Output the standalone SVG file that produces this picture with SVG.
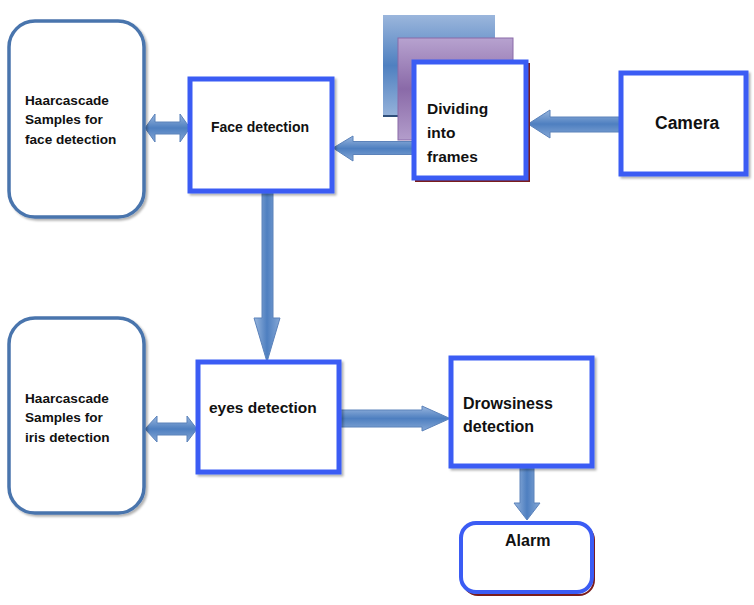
<svg xmlns="http://www.w3.org/2000/svg" width="754" height="605" viewBox="0 0 754 605">
<defs>
<linearGradient id="gv" x1="0" y1="0" x2="0" y2="1">
<stop offset="0" stop-color="#9ab7de"/><stop offset="0.5" stop-color="#4e7fc0"/><stop offset="1" stop-color="#86a8d6"/>
</linearGradient>
<linearGradient id="gh" x1="0" y1="0" x2="1" y2="0">
<stop offset="0" stop-color="#9ab7de"/><stop offset="0.5" stop-color="#4e7fc0"/><stop offset="1" stop-color="#86a8d6"/>
</linearGradient>
<linearGradient id="gblue" x1="0" y1="0" x2="0" y2="1">
<stop offset="0" stop-color="#9bb6dc"/><stop offset="0.5" stop-color="#4f80c0"/><stop offset="1" stop-color="#95b2da"/>
</linearGradient>
<linearGradient id="gpurple" x1="0" y1="0" x2="0" y2="1">
<stop offset="0" stop-color="#b7a2cf"/><stop offset="0.5" stop-color="#8a6aa8"/><stop offset="1" stop-color="#b39dcb"/>
</linearGradient>
<filter id="sh" x="-10%" y="-10%" width="130%" height="130%">
<feDropShadow dx="2" dy="2" stdDeviation="1.2" flood-color="#000" flood-opacity="0.3"/>
</filter>
</defs>
<style>
.box{fill:#fff;stroke:#3b5cf4;stroke-width:5}
.haar{fill:#fff;stroke:#4a74ad;stroke-width:3.5}
.ah{stroke:#5b82ba;stroke-width:1}
.ahv{fill:url(#gv)}
.ahh{fill:url(#gh)}
text{font-family:"Liberation Sans",Arial,sans-serif;font-weight:bold;fill:#111}
</style>

<g id="connectors">
<polygon class="ah ahv" points="145,128 155,114 155,122 180,122 180,114 190,128 180,142 180,134 155,134 155,142"/>
<polygon class="ah ahv" points="145,429 157,416 157,423 187,423 187,416 197,429 187,442 187,435 157,435 157,442"/>
<polygon class="ah ahv" points="333,148 353,136 353,141.5 413,141.5 413,154.5 353,154.5 353,161"/>
<polygon class="ah ahv" points="528,124 550,110 550,117 622,117 622,132 550,132 550,138"/>
<polygon class="ah ahh" points="262,192 273,192 273,318 280,318 267,362 254,318 262,318"/>
<polygon class="ah ahv" points="340,410 422,410 422,406 450,418.5 422,431 422,427 340,427"/>
<polygon class="ah ahh" points="520,467 534,467 534,503 540,503 527,520 514,503 520,503"/>
</g>

<g id="haar-face">
<rect class="haar" x="9" y="21" width="135" height="196" rx="26" filter="url(#sh)"/>
<text x="25" y="105" font-size="13.6">Haarcascade</text>
<text x="25" y="124" font-size="13.6">Samples for</text>
<text x="25" y="144" font-size="13.6">face detection</text>
</g>

<g id="face-detection">
<rect class="box" x="190" y="79" width="142" height="112" filter="url(#sh)"/>
<text x="211" y="132" font-size="14">Face detection</text>
</g>

<g id="dividing">
<rect x="383" y="15" width="112" height="101" fill="url(#gblue)"/>
<line x1="383" y1="116" x2="495" y2="116" stroke="#2f4f7a" stroke-width="2"/>
<rect x="398" y="38" width="115" height="102" fill="url(#gpurple)" stroke="#8a6aa8" stroke-width="1"/>
<rect x="416" y="64" width="113" height="117" fill="none" stroke="#7a1c1c" stroke-width="2"/>
<rect class="box" x="414" y="62" width="112" height="116"/>
<text x="427" y="114" font-size="15.5">Dividing</text>
<text x="427" y="138" font-size="15.5">into</text>
<text x="427" y="162" font-size="15.5">frames</text>
</g>

<g id="camera">
<rect class="box" x="621" y="73" width="125" height="101" filter="url(#sh)"/>
<text x="655" y="129" font-size="17.5">Camera</text>
</g>

<g id="haar-iris">
<rect class="haar" x="9" y="318" width="135" height="195" rx="26" filter="url(#sh)"/>
<text x="25" y="403" font-size="13.6">Haarcascade</text>
<text x="25" y="422" font-size="13.6">Samples for</text>
<text x="25" y="442" font-size="13.6">iris detection</text>
</g>

<g id="eyes-detection">
<rect class="box" x="198" y="362" width="141" height="110" filter="url(#sh)"/>
<text x="209" y="413" font-size="15.5">eyes detection</text>
</g>

<g id="drowsiness">
<rect class="box" x="451" y="358" width="141" height="108" filter="url(#sh)"/>
<text x="463" y="409" font-size="16">Drowsiness</text>
<text x="463" y="432" font-size="16">detection</text>
</g>

<g id="alarm">
<rect x="463" y="525" width="131" height="70" rx="15" fill="none" stroke="#7a1c1c" stroke-width="2"/>
<rect x="461" y="523" width="131" height="69" rx="15" fill="#fff" stroke="#3b5cf4" stroke-width="4"/>
<text x="505" y="546" font-size="16">Alarm</text>
</g>
</svg>
